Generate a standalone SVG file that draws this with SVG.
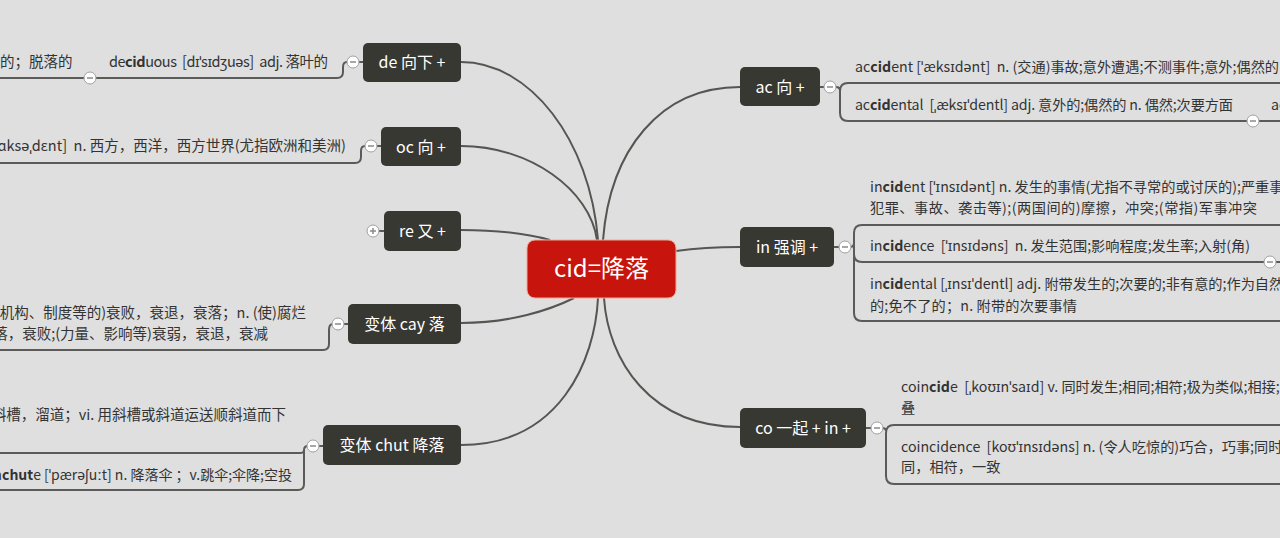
<svg xmlns="http://www.w3.org/2000/svg" width="1280" height="538" viewBox="0 0 1280 538">
<style>
.bg{fill:#dfdfdf}
.node rect{fill:#383833}
.node text{fill:#ffffff;font-family:"Noto Sans CJK SC","Noto Sans",sans-serif;font-size:16px;text-anchor:middle}
.root rect{fill:#c7140c;stroke:#f0a898;stroke-width:1}
.root text{fill:#ffffff;font-family:"Noto Sans CJK SC","Noto Sans",sans-serif;font-size:24px;text-anchor:middle}
.conn{fill:none;stroke:#555552;stroke-width:2}
.br{fill:none;stroke:#5a5a58;stroke-width:2}
.sub{fill:#333333;font-family:"Noto Sans CJK SC","Noto Sans",sans-serif;font-size:14.5px;white-space:pre}
.r{font-size:14.2px}
.s{font-size:14px}
.end{text-anchor:end}
.b{font-weight:bold}
.tog circle{fill:#ffffff;stroke:#a0a0a0;stroke-width:1}
.tog line{stroke:#8a8a8a;stroke-width:1.5}
</style>
<rect class="bg" x="0" y="0" width="1280" height="538"/>

<g id="connectors">
<path class="conn" d="M461,62 C530,62 590,140 598,240"/>
<path class="conn" d="M461,146 C530,146 590,190 597,240"/>
<path class="conn" d="M461,230 C500,230 528,234 550,240"/>
<path class="conn" d="M461,323 C510,323 550,310 574,298"/>
<path class="conn" d="M461,445 C560,445 595,360 598,298"/>
<path class="conn" d="M740,87 C660,87 610,150 603,240"/>
<path class="conn" d="M740,247 C710,247 690,249 676,251"/>
<path class="conn" d="M740,427 C650,427 608,360 604,298"/>
<path class="br" d="M363,62 H347 Q343,62 343,67 V72 Q343,78 337,78 H0"/>
<path class="br" d="M381,146 H365 Q361,146 361,151 V157 Q361,163 355,163 H0"/>
<path class="br" d="M384,231 H378"/>
<path class="br" d="M348,324 H333 Q329,324 329,330 V344 Q329,350 323,350 H0"/>
<path class="br" d="M323,446 H308 Q304,446 304,450 V484 Q304,490 298,490 H0 M304,450 Q304,453 300,453 H0"/>
<path class="br" d="M820,87 H836 Q840,87 840,91 M1280,83 H848 Q840,83 840,91 V113 Q840,121 848,121 H1280"/>
<path class="br" d="M834,247 H850 Q854,247 854,243 M1280,225 H862 Q854,225 854,233 V313 Q854,321 862,321 H1280 M854,254 Q854,262 862,262 H1280"/>
<path class="br" d="M866,428 H882 Q886,428 886,431 M1280,425 H894 Q886,425 886,433 V476 Q886,484 894,484 H1280"/>
</g>

<g id="root" class="root">
<rect x="527" y="240" width="149" height="58" rx="8"/>
<text x="601.5" y="277">cid=降落</text>
</g>

<g id="node-de" class="node">
<rect x="363" y="43" width="98" height="39" rx="5"/>
<text x="412" y="68">de 向下 +</text>
</g>
<g id="node-oc" class="node">
<rect x="381" y="127" width="80" height="39" rx="5"/>
<text x="421" y="153">oc 向 +</text>
</g>
<g id="node-re" class="node">
<rect x="384" y="211" width="77" height="40" rx="5"/>
<text x="422.5" y="237">re 又 +</text>
</g>
<g id="node-cay" class="node">
<rect x="348" y="304" width="113" height="40" rx="5"/>
<text x="404.5" y="330">变体 cay 落</text>
</g>
<g id="node-chut" class="node">
<rect x="323" y="425" width="138" height="40" rx="5"/>
<text x="392" y="451">变体 chut 降落</text>
</g>
<g id="node-ac" class="node">
<rect x="740" y="67" width="80" height="39" rx="5"/>
<text x="780" y="93">ac 向 +</text>
</g>
<g id="node-in" class="node">
<rect x="740" y="227" width="94" height="40" rx="5"/>
<text x="787" y="253">in 强调 +</text>
</g>
<g id="node-co" class="node">
<rect x="740" y="408" width="126" height="40" rx="5"/>
<text x="803" y="434">co 一起 + in +</text>
</g>

<g id="sub-de">
<text class="sub" x="0" y="67">的；脱落的</text>
<text class="sub" x="109" y="67" textLength="219">de<tspan class="b">cid</tspan>uous  [dɪˈsɪdʒuəs]  adj. 落叶的</text>
</g>
<g id="sub-oc">
<text class="sub end" x="346" y="151">[ɑksəˌdɛnt]  n. 西方，西洋，西方世界(尤指欧洲和美洲)</text>
</g>
<g id="sub-cay">
<text class="sub end" x="306" y="318">(机构、制度等的)衰败，衰退，衰落；n. (使)腐烂</text>
<text class="sub end" x="268" y="339">落，衰败;(力量、影响等)衰弱，衰退，衰减</text>
</g>
<g id="sub-chut">
<text class="sub end" x="286" y="420">斜槽，溜道；vi. 用斜槽或斜道运送顺斜道而下</text>
<text class="sub s end" x="292" y="480">para<tspan class="b">chut</tspan>e [ˈpærəʃuːt] n. 降落伞 ；v.跳伞;伞降;空投</text>
</g>
<g id="sub-ac">
<text class="sub r" x="855" y="72">ac<tspan class="b">cid</tspan>ent [ˈæksɪdənt]  n. (交通)事故;意外遭遇;不测事件;意外;偶然的</text>
<text class="sub r" x="855" y="110" textLength="378">ac<tspan class="b">cid</tspan>ental  [ˌæksɪˈdentl] adj. 意外的;偶然的 n. 偶然;次要方面</text>
<text class="sub r" x="1271" y="110">ac</text>
</g>
<g id="sub-in">
<text class="sub r" x="870" y="192">in<tspan class="b">cid</tspan>ent [ˈɪnsɪdənt] n. 发生的事情(尤指不寻常的或讨厌的);严重事</text>
<text class="sub r" x="870" y="213" textLength="387">犯罪、事故、袭击等);(两国间的)摩擦，冲突;(常指)军事冲突</text>
<text class="sub r" x="870" y="251" textLength="380">in<tspan class="b">cid</tspan>ence  [ˈɪnsɪdəns]  n. 发生范围;影响程度;发生率;入射(角)</text>
<text class="sub r" x="870" y="289">in<tspan class="b">cid</tspan>ental [ˌɪnsɪˈdentl] adj. 附带发生的;次要的;非有意的;作为自然</text>
<text class="sub r" x="870" y="311" textLength="207">的;免不了的；n. 附带的次要事情</text>
</g>
<g id="sub-co">
<text class="sub r" x="901" y="392">coin<tspan class="b">cid</tspan>e  [ˌkoʊɪnˈsaɪd] v. 同时发生;相同;相符;极为类似;相接;</text>
<text class="sub r" x="901" y="413">叠</text>
<text class="sub r" x="901" y="452">coincidence  [koʊˈɪnsɪdəns] n. (令人吃惊的)巧合，巧事;同时</text>
<text class="sub r" x="901" y="472">同，相符，一致</text>
</g>

<g id="toggles" class="tog">
<circle cx="353" cy="62" r="6"/><line x1="350" y1="62" x2="356" y2="62"/>
<circle cx="90" cy="78" r="6"/><line x1="87" y1="78" x2="93" y2="78"/>
<circle cx="371" cy="146" r="6"/><line x1="368" y1="146" x2="374" y2="146"/>
<circle cx="373" cy="231" r="6"/><line x1="370" y1="231" x2="376" y2="231"/><line x1="373" y1="228" x2="373" y2="234"/>
<circle cx="338" cy="324" r="6"/><line x1="335" y1="324" x2="341" y2="324"/>
<circle cx="313" cy="446" r="6"/><line x1="310" y1="446" x2="316" y2="446"/>
<circle cx="830" cy="87" r="6"/><line x1="827" y1="87" x2="833" y2="87"/>
<circle cx="1253" cy="121" r="6"/><line x1="1250" y1="121" x2="1256" y2="121"/>
<circle cx="845" cy="247" r="6"/><line x1="842" y1="247" x2="848" y2="247"/>
<circle cx="1270" cy="262" r="6"/><line x1="1267" y1="262" x2="1273" y2="262"/>
<circle cx="877" cy="428" r="6"/><line x1="874" y1="428" x2="880" y2="428"/>
</g>
</svg>
